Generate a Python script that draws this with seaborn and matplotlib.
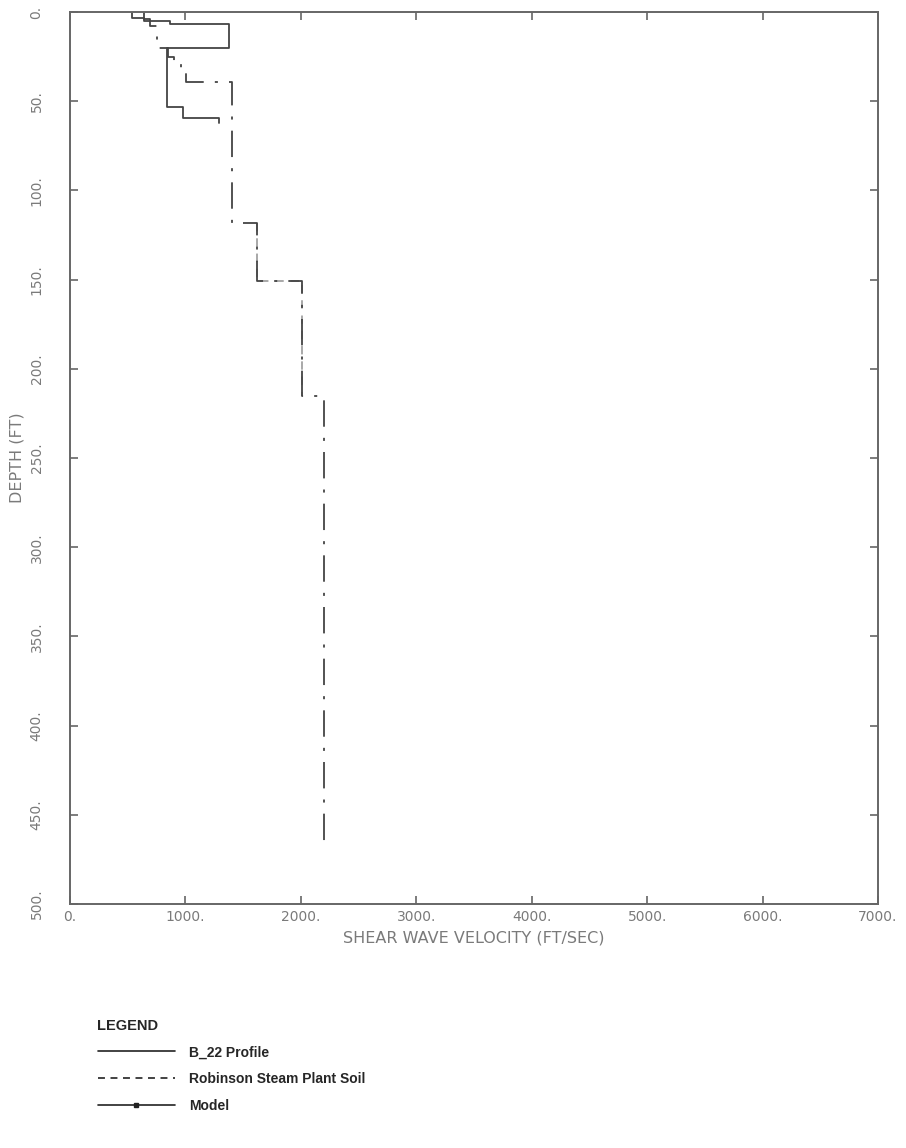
import matplotlib
matplotlib.use("Agg")
import matplotlib.pyplot as plt
import pandas as pd
import seaborn as sns
from matplotlib.lines import Line2D

# layer tops (ft), velocities (ft/s) and the bottom of the last layer
b22_tops = [0, 3.5, 5, 6.7, 20, 53, 59.3]
b22_vel = [540, 640, 870, 1380, 840, 980, 1295]
b22_end = 62

model_tops = [0, 4, 8, 20, 25, 28, 34, 39, 118.5, 151, 215]
model_vel = [640, 695, 755, 848, 900, 961, 1005, 1403, 1623, 2009, 2203]
model_end = 466

robinson_tops = [118.5, 151]
robinson_vel = [1623, 2009]
robinson_end = 215

x_ticks = [0, 1000, 2000, 3000, 4000, 5000, 6000, 7000]
y_ticks = [0, 50, 100, 150, 200, 250, 300, 350, 400, 450, 500]


def step_profile(tops, vel, end):
    """Turn layer tops and velocities into a step line (velocity vs depth)."""
    bottoms = tops[1:] + [end]
    rows = []
    for top, bot, v in zip(tops, bottoms, vel):
        rows.append((v, top))
        rows.append((v, bot))
    return pd.DataFrame(rows, columns=["velocity", "depth"])


sns.set_style("white")
plt.rcParams["font.family"] = ["DejaVu Sans"]
plt.rcParams["lines.scale_dashes"] = False

fig = plt.figure(figsize=(9.06, 11.48), dpi=100)
ax = fig.add_axes([70 / 906, 1 - 904 / 1148, 808 / 906, 892 / 1148])

line_col = "#444444"
grey = "#7a7a7a"

b22 = step_profile(b22_tops, b22_vel, b22_end)
model = step_profile(model_tops, model_vel, model_end)
robinson = step_profile(robinson_tops, robinson_vel, robinson_end)

sns.lineplot(data=b22, x="velocity", y="depth", sort=False, estimator=None,
             color=line_col, lw=1.3, ax=ax)
sns.lineplot(data=robinson, x="velocity", y="depth", sort=False, estimator=None,
             color="#9a9a9a", lw=1.2, linestyle=(0, (6, 5)), ax=ax)
sns.lineplot(data=model, x="velocity", y="depth", sort=False, estimator=None,
             color=line_col, lw=1.3, linestyle=(0, (19, 8, 2.2, 8)), ax=ax)

ax.set_xlim(0, 7000)
ax.set_ylim(500, 0)
ax.set_xticks(x_ticks)
ax.set_xticklabels([f"{t}." for t in x_ticks])
ax.set_yticks(y_ticks)
ax.set_yticklabels([f"{t}." for t in y_ticks], rotation=90, va="center")

ax.tick_params(direction="in", top=True, right=True, bottom=True, left=True,
               length=6, width=1.2, color="#666666", labelcolor=grey, labelsize=10)
ax.tick_params(axis="x", pad=4)
ax.tick_params(axis="y", pad=19)
for sp in ax.spines.values():
    sp.set_color("#666666")
    sp.set_linewidth(1.4)

ax.set_xlabel("SHEAR WAVE VELOCITY (FT/SEC)", fontsize=11.5, color=grey, labelpad=5)
ax.set_ylabel("DEPTH (FT)", fontsize=11.5, color=grey)
ax.yaxis.set_label_coords(-0.056, 0.5)

handles = [
    Line2D([], [], color="#222222", lw=1.2, ls="-"),
    Line2D([], [], color="#222222", lw=1.2, ls=(0, (5, 4))),
    Line2D([], [], color="#222222", lw=1.2, ls="-", marker="s", markersize=3),
]
labels = ["B_22 Profile", "Robinson Steam Plant Soil", "Model"]
leg = fig.legend(handles, labels, loc="upper left",
                 bbox_to_anchor=(85 / 906, 1 - 1006 / 1148),
                 frameon=False, title="LEGEND", alignment="left",
                 handlelength=5.6, handletextpad=1.0, labelspacing=0.92,
                 numpoints=1,
                 prop={"family": "Liberation Sans", "weight": "bold", "size": 10},
                 title_fontproperties={"family": "Liberation Sans", "weight": "bold", "size": 10.5})

fig.savefig("out.png", dpi=100, facecolor="white")
